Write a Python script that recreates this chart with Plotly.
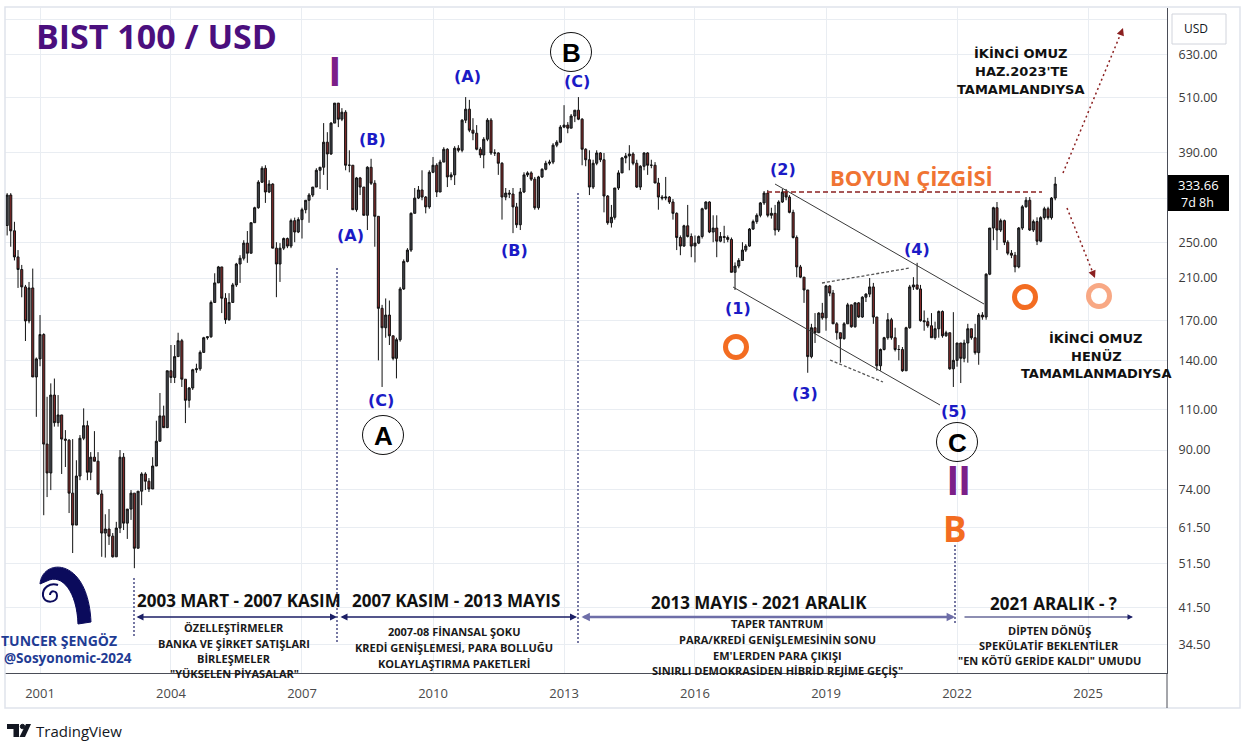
import plotly.graph_objects as go
import pandas as pd

# ---------------- DATA (monthly candles, Apr 2000 - Apr 2024, BIST 100 in USD) ----------------
first_open = 272
close_values = [
    316, 265, 233, 219, 201, 170, 200, 129, 141,                                   # 2000 Apr-Dec
    159, 92.7, 80.4, 118, 103, 107, 95, 94.5, 72.8, 62.2, 79.2, 95.4,               # 2001
    101.5, 80.7, 86.9, 85.2, 72.5, 59.8, 61, 58.9, 53.2, 61.3, 86.9, 62.8,          # 2002
    67.3, 72.8, 55.5, 73.5, 80, 77.2, 74.3, 83.2, 94, 106.5, 100.5, 133,            # 2003
    128.7, 142.6, 154.2, 127.6, 115, 122.2, 133.7, 134.3, 145.6, 156.5, 157.2, 186.2,  # 2004
    205, 221.8, 190.1, 171, 186.2, 203, 225, 231.5, 249.4, 237.3, 275.8, 296.9,     # 2005
    336.7, 360.6, 320.8, 333.6, 243.3, 225, 243.3, 255.1, 245.8, 278.6, 263.4, 280, # 2006
    294, 308, 316, 328.7, 357, 362.4, 410, 386.9, 450.4, 497, 459.2, 475.3,         # 2007
    366, 366, 294, 343.8, 328.7, 286, 362.4, 334.9, 284.6, 180.9, 164.4, 175,       # 2008
    158, 141.4, 155, 199, 227.9, 241, 288.8, 311.3, 324, 312.9, 298.1, 353.5,       # 2009
    366, 320.8, 371.7, 396, 345.5, 349, 398, 394, 457, 482.4, 435, 428.5,           # 2010
    396, 385, 416, 457, 388.8, 388.8, 369.6, 312.9, 319.1, 317.6, 298.1, 273,       # 2011
    320.8, 349, 352.4, 341.7, 296.9, 345.5, 358.8, 369.6, 371.7, 404, 410, 441.6,   # 2012
    446, 439.3, 466.4, 480, 459.2, 396, 376, 328.7, 369.6, 388.8, 376, 314.5,       # 2013
    275.7, 283.2, 327.2, 352.4, 379.4, 383.1, 386.9, 369.6, 328.7, 364.2, 388.8, 366,  # 2014
    366, 335.3, 312.9, 311.4, 312.9, 305.4, 288.8, 256.4, 245.8, 271.6, 257.7, 245.8,  # 2015
    249.4, 257.7, 295.4, 305.4, 263.4, 268.6, 251.8, 257.7, 256.4, 254, 216, 222.8,    # 2016
    229, 241, 245.8, 267.3, 277.3, 286, 304, 319.1, 286, 288.8, 266, 305.4,         # 2017
    320.8, 312.9, 290.2, 256.4, 221.8, 210.9, 198, 142.6, 164.4, 160.4, 176.7, 172.6,  # 2018
    202, 195, 167.6, 160.4, 155.8, 167.6, 184, 165.2, 185.8, 173.3, 191.1, 194,     # 2019
    201, 173.3, 136.3, 147.7, 156.5, 171, 156.5, 147.7, 147.7, 133, 164.4, 201,     # 2020
    203, 199, 170.2, 169.4, 166, 156.5, 163.6, 178.1, 158, 160.4, 134.3, 140,       # 2021
    152.5, 141.4, 152.5, 163.6, 156.5, 145.4, 175, 173.3, 214, 268.6, 296.9, 266,   # 2022
    278.6, 250.5, 237.3, 235, 221.8, 268.6, 298.3, 308, 266, 277.3, 251.8, 282.7,   # 2023
    295.4, 282.7, 311.4, 333.66,                                                    # 2024 Jan-Apr
]
high_values = [
    319, 319, 277, 241, 224, 203, 206, 220, 142,
    175, 160, 117, 125, 128, 118, 107, 99.3, 95, 95, 85.6, 96.9,
    110.5, 104, 89.1, 98.8, 89.1, 73.9, 65.6, 67.3, 59.8, 63.2, 90, 88.7,
    67.3, 73.9, 70, 73.5, 80.7, 80.7, 78.4, 86.9, 104, 119.2, 112, 133,
    151, 151, 160.4, 155.6, 127.6, 122.8, 134.3, 137.7, 147, 157.2, 157.2, 188,
    215, 222.9, 221.8, 194.9, 194.9, 205, 226.3, 235, 253, 264.7, 275.8, 298.3,
    340, 364.2, 366, 340, 334.9, 250.5, 249.4, 256.4, 256.4, 281.4, 282.8, 283.2,
    296.9, 308, 319.1, 328.7, 360.6, 362.4, 450.4, 430.7, 452.6, 497, 497, 484.8,
    480, 394, 366, 345.5, 345.5, 328.7, 364.2, 377.8, 340, 266, 184, 189.9,
    188, 156.5, 156.5, 201, 230.2, 243.3, 290.2, 327.2, 330.4, 357, 314.5, 357,
    381.2, 369.6, 376, 400, 398, 353.5, 402, 404, 459.2, 512, 505, 461.5,
    446, 400, 420.3, 461.5, 461.5, 396, 390, 371.7, 327.2, 324, 327.2, 304,
    327.2, 353.5, 355.2, 355.2, 345.5, 347.4, 360.6, 374.2, 376, 408, 414, 446,
    492, 452.6, 471, 480, 512, 461.5, 398, 394, 376, 394, 390.3, 388.8,
    316, 301, 327.2, 357, 381.2, 388.8, 404, 390.3, 376, 366, 390.3, 390.3,
    376, 371.7, 343.8, 316, 345.5, 314.5, 309.8, 290.2, 259, 273, 301, 261.6,
    259, 259, 296.9, 306.5, 306.5, 286, 286, 263.4, 271.6, 259, 256.4, 226.8,
    231.6, 250.5, 248.2, 268.6, 280, 288.8, 305.4, 322.3, 324, 296.9, 301, 308,
    325.6, 325.6, 316, 294, 259, 224, 210.9, 198, 167.6, 176.7, 177.5, 185.8,
    203, 203, 198, 169, 160.4, 169, 185.8, 184, 186.6, 186.6, 192, 194.9,
    210, 205, 173.3, 148.4, 157.2, 176.7, 172.6, 164.4, 151, 149.5, 165.2, 203,
    210.9, 226.3, 203, 179, 172.6, 176.7, 169.4, 179, 179, 162, 160.4, 177.5,
    152.5, 152.5, 155, 167.6, 163.6, 167.6, 176.7, 177.5, 215, 268.6, 298.3, 305.4,
    281.4, 280, 253, 241, 238.8, 270, 301, 312.9, 312.9, 280, 283.2, 284.6,
    298.3, 298.3, 312.9, 345.5,
]
low_values = [
    259, 245, 229, 200, 191, 154, 168, 129, 106,
    136, 65.3, 71.4, 73.9, 101, 101, 80, 82.8, 66, 54.2, 62.2, 77.6,
    94.5, 77.6, 77.6, 85.2, 72.1, 53.2, 53, 56.4, 53, 53.2, 59.8, 60.7,
    58.1, 63.8, 50.3, 56.1, 68.6, 73.9, 73.2, 74.3, 83.6, 94.5, 100.5, 101,
    125.2, 125.2, 142.6, 122.8, 102.8, 110.9, 121, 131.7, 133, 145.4, 155, 156.5,
    185.8, 205, 176.7, 167.6, 170.2, 185.8, 201, 205, 229, 226.3, 237.3, 277.3,
    295.4, 335.3, 304, 319.1, 243.3, 191.1, 206, 241, 243.3, 243.3, 250.5, 262,
    255.1, 288.8, 275.7, 312.9, 335.3, 325.6, 349, 324, 385, 450.4, 441.6, 454.8,
    357, 353.5, 294, 291.1, 316, 286, 266, 332, 245, 140, 122.8, 156.5,
    151, 140, 128.1, 153.5, 198, 226.8, 238.8, 288.8, 309.8, 308, 288.8, 295.4,
    352, 312.9, 324, 371.7, 328.7, 340, 332, 390, 390, 450.4, 430.7, 414,
    394, 379.4, 360.6, 412, 385, 383.1, 349, 280, 308, 311.4, 262, 268.9,
    266, 319.1, 345.5, 338.6, 294, 294, 343.8, 357, 366, 368, 400, 408,
    439.3, 428.5, 439.3, 452.6, 457, 366, 364.2, 316, 325.6, 366, 371.7, 290.2,
    273, 269.3, 280, 324, 352.4, 369.6, 357, 366, 327.2, 324, 357, 349,
    360.6, 335.3, 294, 308, 308, 302.4, 280, 241, 235, 245, 256.4, 232.7,
    226.8, 248.2, 255.1, 294, 262, 250.5, 232.7, 250.5, 249.4, 250.5, 216, 198,
    220.3, 229, 238.8, 245, 266, 274.3, 283.2, 301, 283.2, 281.4, 259, 263.4,
    304, 308, 288.8, 255.1, 210.9, 209.9, 185.8, 131.7, 141.4, 152.5, 160.4, 171,
    162, 192, 167.6, 155, 138.4, 155, 172.6, 164.4, 164.4, 172.6, 172.6, 186.6,
    191.1, 167.6, 133, 133, 147, 155, 155, 146.3, 140, 132.3, 133, 163.6,
    198, 198, 169.4, 162, 164.4, 156.5, 155, 156.5, 156.5, 157.2, 133.7, 122.8,
    135.7, 125.2, 138.7, 138.4, 155, 144, 137, 171, 171, 213, 253, 241,
    263.4, 247, 235, 231.6, 216, 220.3, 266, 296.9, 264.7, 263.4, 247, 250.5,
    280, 280, 280, 308,
]
price_tick_values = [750, 630, 510, 390, 310, 250, 210, 170, 140, 110, 90, 74, 61.5, 51.5, 41.5, 34.5]
price_tick_text = ["", "630.00", "510.00", "390.00", "", "250.00", "210.00", "170.00", "140.00",
                   "110.00", "90.00", "74.00", "61.50", "51.50", "41.50", "34.50"]
year_ticks = [2001, 2004, 2007, 2010, 2013, 2016, 2019, 2022, 2025]
last_price = "333.66"

# ---------------- build candles ----------------
dates = pd.date_range("2000-04-01", periods=len(close_values), freq="MS")
open_values = [first_open] + close_values[:-1]
hi = [max(h, o, c) for h, o, c in zip(high_values, open_values, close_values)]
lo = [min(l, o, c) for l, o, c in zip(low_values, open_values, close_values)]

fig = go.Figure(go.Candlestick(
    x=dates, open=open_values, high=hi, low=lo, close=close_values,
    increasing=dict(line=dict(color="#111111", width=1), fillcolor="#43464e"),
    decreasing=dict(line=dict(color="#111111", width=1), fillcolor="#852b2b"),
    hoverinfo="skip", showlegend=False,
))

# ---------------- pixel helpers for drawings ----------------
X0, X1, Y0, Y1 = 5, 1167, 8, 673
def fx(x):
    return (x - X0) / (X1 - X0)
def fy(y):
    return (Y1 - y) / (Y1 - Y0)

shapes = []
annotations = []

def seg(x0, y0, x1, y1, color, width=1, dash="solid", layer="above"):
    shapes.append(dict(type="line", xref="paper", yref="paper", x0=fx(x0), y0=fy(y0),
                       x1=fx(x1), y1=fy(y1), line=dict(color=color, width=width, dash=dash),
                       layer=layer))

def rect(x0, y0, x1, y1, fill=None, line_color=None, width=1, layer="above"):
    shapes.append(dict(type="rect", xref="paper", yref="paper", x0=fx(x0), y0=fy(y1),
                       x1=fx(x1), y1=fy(y0), fillcolor=fill or "rgba(0,0,0,0)",
                       line=dict(color=line_color or "rgba(0,0,0,0)", width=width if line_color else 0),
                       layer=layer))

def ellipse(cx, cy, rx, ry, color, width, fill=None):
    shapes.append(dict(type="circle", xref="paper", yref="paper", x0=fx(cx - rx), x1=fx(cx + rx),
                       y0=fy(cy + ry), y1=fy(cy - ry), line=dict(color=color, width=width),
                       fillcolor=fill or "rgba(0,0,0,0)"))

def txt(s, x, y, size, color, family="Open Sans", bold=True, xanchor="center"):
    annotations.append(dict(text=("<b>%s</b>" % s) if bold else s, x=fx(x), y=fy(y),
                            xref="paper", yref="paper", showarrow=False, xanchor=xanchor,
                            yanchor="middle", font=dict(size=size, color=color, family=family)))

def arrow(xh, yh, xt, yt, color, width, both=False, size=1.0):
    annotations.append(dict(text="", x=fx(xh), y=fy(yh), xref="paper", yref="paper",
                            ax=xt - xh, ay=yt - yh, axref="pixel", ayref="pixel",
                            showarrow=True, arrowhead=2, arrowsize=size, arrowwidth=width,
                            arrowcolor=color, arrowside="end+start" if both else "end",
                            standoff=0, startstandoff=0))

def P(x, y):
    return "%.5f,%.5f" % (fx(x), fy(y))

# panel frame
rect(5, 7, 1240, 708, line_color="#e0e3eb", width=1.5)
seg(1167, 673, 1167, 708, "#4a4d57", 1)
# title box (white) and logo box
rect(16, 8, 624, 49, fill="white", layer="between")
rect(23, 553, 96, 628, fill="white", layer="between")

# vertical dotted separators
NAVY = "#1c1f66"
for x, ya, yb in [(134, 578, 636), (337, 268, 643), (578, 193, 643), (955, 545, 625)]:
    seg(x, ya, x, yb, NAVY, 1.2, "2px,2px")

# channel lines
seg(775, 184, 984, 304, "#3a3a3a", 1)
seg(733, 287, 940, 405, "#3a3a3a", 1)
# triangle dotted lines
seg(822, 283, 910, 268, "#555555", 1.3, "3px,2px")
seg(830, 360, 883, 382, "#555555", 1.3, "3px,2px")
# neckline
seg(767, 192, 1042, 192, "#8b2020", 1.3, "5px,3px")
# projection arrows (dotted)
seg(1063, 173, 1121, 33, "#8b2020", 1.5, "2px,3px")
seg(1067, 208, 1093, 273, "#8b2020", 1.5, "2px,3px")
arrow(1123, 28, 1120, 36, "#8b2020", 1.5)
arrow(1095, 278, 1092, 271, "#8b2020", 1.5)

# orange rings
ellipse(736, 347, 10.5, 10.5, "#f36c21", 5)
ellipse(1025, 297, 10.5, 10.5, "#f36c21", 5)
ellipse(1099, 296, 10.5, 10.5, "#f8a884", 5)
# circled wave letters
for s, cx, cy in [("A", 383, 435), ("B", 571, 52), ("C", 957, 442)]:
    ellipse(cx, cy, 20.5, 19.5, "#111111", 1)
    txt(s, cx, cy + 1, 26, "#000000", "Liberation Sans")

# price label and USD box
rect(1168, 175, 1229, 211, fill="#000000")
txt(last_price, 1198, 185, 13, "white", "Open Sans", bold=False)
txt("7d 8h", 1197, 202, 12.5, "white", "Open Sans", bold=False)
rect(1172, 14, 1226, 44, fill="white", line_color="#d1d4dc", width=1)
txt("USD", 1196, 29, 12, "#131722", "Open Sans", bold=False)

# title
txt("BIST 100 / USD", 156, 36, 34, "#4b0f7e")

# wave labels (blue)
BLUE = "#1b1bc6"
for s, x, y in [("(A)", 350, 235), ("(B)", 372, 140), ("(C)", 381, 400), ("(A)", 467, 76),
                ("(B)", 514, 251), ("(C)", 577, 82), ("(1)", 738, 308), ("(2)", 783, 170),
                ("(3)", 805, 393), ("(4)", 917, 250), ("(5)", 954, 411)]:
    txt(s, x, y, 16, BLUE, "DejaVu Sans")

# roman numerals, orange B
txt("I", 335, 72, 42, "#7b1f88", "Liberation Sans")
txt("II", 958, 480, 42, "#7b1f88", "Liberation Sans")
txt("B", 955, 528, 35, "#f36c21", "Open Sans")
txt("BOYUN ÇİZGİSİ", 911, 177, 22, "#f07433", "Open Sans")

# scenario texts
for s, y in [("İKİNCİ OMUZ", 53), ("HAZ.2023'TE", 72), ("TAMAMLANDIYSA", 90)]:
    txt(s, 1021, y, 13, "#111111", "DejaVu Sans")
for s, y in [("İKİNCİ OMUZ", 338), ("HENÜZ", 356), ("TAMAMLANMADIYSA", 373)]:
    txt(s, 1096, y, 13, "#111111", "DejaVu Sans")

# period headers and arrows
txt("2003 MART - 2007 KASIM", 239, 600, 17, "#111111")
txt("2007 KASIM - 2013 MAYIS", 456, 600, 17, "#111111")
txt("2013 MAYIS - 2021 ARALIK", 759, 602, 17, "#111111")
txt("2021 ARALIK - ?", 1053, 603, 17, "#111111")
arrow(337, 617, 135, 617, NAVY, 1.4, both=True)
arrow(577, 617, 339, 617, NAVY, 1.4, both=True)
arrow(955, 617, 580, 617, "#6e6ea8", 2.4, both=True, size=0.7)
arrow(1133, 617, 963, 617, NAVY, 1.1)

for s, y in [("ÖZELLEŞTİRMELER", 627), ("BANKA VE ŞİRKET SATIŞLARI", 643),
             ("BİRLEŞMELER", 658), ("\"YÜKSELEN PİYASALAR\"", 673)]:
    txt(s, 234, y, 11, "#1a1a1a")
for s, y in [("2007-08 FİNANSAL ŞOKU", 631), ("KREDİ GENİŞLEMESİ, PARA BOLLUĞU", 647),
             ("KOLAYLAŞTIRMA PAKETLERİ", 663)]:
    txt(s, 454, y, 11, "#1a1a1a")
for s, y in [("TAPER TANTRUM", 623), ("PARA/KREDİ GENİŞLEMESİNİN SONU", 639),
             ("EM'LERDEN PARA ÇIKIŞI", 655), ("SINIRLI DEMOKRASİDEN HİBRİD REJİME GEÇİŞ\"", 670)]:
    txt(s, 777, y, 11, "#1a1a1a")
for s, y in [("DİPTEN DÖNÜŞ", 630), ("SPEKÜLATİF BEKLENTİLER", 645),
             ("\"EN KÖTÜ GERİDE KALDI\" UMUDU", 660)]:
    txt(s, 1049, y, 11, "#1a1a1a")

# author
txt("TUNCER ŞENGÖZ", 59, 640, 14, "#1f3c94")
txt("@Sosyonomic-2024", 68, 658, 13.5, "#1f3c94")
# author logo (shell)
shapes.append(dict(type="path", xref="paper", yref="paper", fillcolor="#0b0b5c",
                   line=dict(color="#0b0b5c", width=1),
                   path="M " + P(40, 584) + " C " + P(42, 558) + " " + P(88, 556) + " " + P(91, 622)
                        + " L " + P(78, 624) + " C " + P(77, 592) + " " + P(62, 573) + " " + P(47, 581) + " Z"))
shapes.append(dict(type="path", xref="paper", yref="paper", line=dict(color="#0b0b5c", width=2),
                   path="M " + P(50, 595) + " C " + P(50, 590) + " " + P(57, 590) + " " + P(57, 596)
                        + " C " + P(57, 603) + " " + P(45, 604) + " " + P(43, 596)
                        + " C " + P(42, 588) + " " + P(50, 582) + " " + P(58, 585)))

# TradingView watermark
shapes.append(dict(type="path", xref="paper", yref="paper", fillcolor="#131722", line=dict(width=0),
                   path="M " + P(7, 724) + " L " + P(19, 724) + " L " + P(19, 737) + " L " + P(13.5, 737)
                        + " L " + P(13.5, 729) + " L " + P(7, 729) + " Z"))
ellipse(22.5, 726.5, 2.2, 2.2, "#131722", 1, fill="#131722")
shapes.append(dict(type="path", xref="paper", yref="paper", fillcolor="#131722", line=dict(width=0),
                   path="M " + P(26, 724) + " L " + P(31, 724) + " L " + P(25, 737) + " L " + P(19.5, 737) + " Z"))
txt("TradingView", 79, 731, 15, "#131722", "Open Sans", bold=False)

fig.update_layout(
    width=1244, height=752,
    margin=dict(l=X0, r=1244 - X1, t=Y0, b=752 - Y1, pad=0),
    paper_bgcolor="white", plot_bgcolor="white",
    showlegend=False, boxgap=0.12,
    xaxis=dict(type="date", range=["2000-03-14", "2026-10-23"],
               tickvals=["%d-01-01" % y for y in year_ticks], ticktext=[str(y) for y in year_ticks],
               showgrid=True, gridcolor="#e9edf2", gridwidth=1, zeroline=False,
               showline=True, linecolor="#4a4d57", linewidth=1, ticks="",
               ticklabelstandoff=8, tickfont=dict(family="Open Sans", size=13, color="#4a4a4a"),
               rangeslider=dict(visible=False), fixedrange=True),
    yaxis=dict(type="log", side="right", range=[1.4774, 2.8998],
               tickvals=price_tick_values, ticktext=price_tick_text,
               showgrid=True, gridcolor="#e9edf2", gridwidth=1, zeroline=False,
               showline=True, linecolor="#4a4d57", linewidth=1, ticks="",
               ticklabelstandoff=8, tickfont=dict(family="Open Sans", size=12.5, color="#3a3a3a"),
               fixedrange=True),
    shapes=shapes, annotations=annotations,
)

fig.write_html("out.html", config={"displayModeBar": False},
               post_script="document.body.style.margin='0px';document.body.style.overflow='hidden';")
